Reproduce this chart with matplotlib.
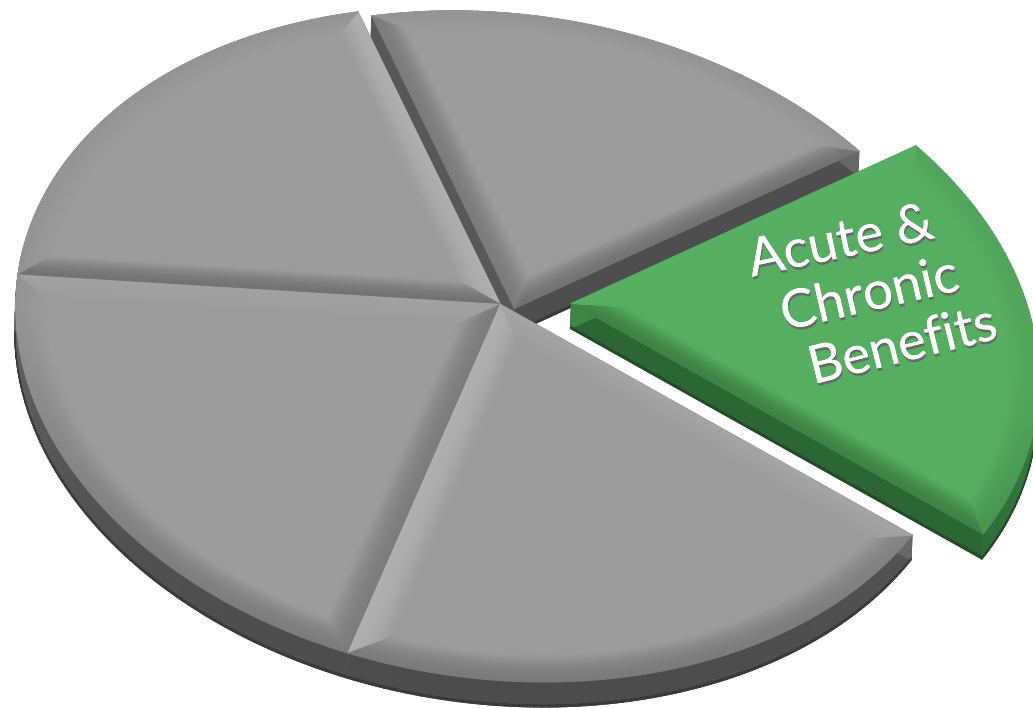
import numpy as np
import matplotlib
matplotlib.use("Agg")
import matplotlib.pyplot as plt
import matplotlib.patheffects as pe
from matplotlib.collections import PolyCollection

# one pie, five equal slices, counter clockwise from the upper right edge
slice_shares = [20, 20, 20, 20, 20]
slice_colors = ["#9c9c9c", "#9c9c9c", "#9c9c9c", "#9c9c9c", "#56ae60"]
side_colors = ["#505050", "#505050", "#505050", "#505050", "#2e6836"]
label_lines = ["Acute &", "Chronic", "Benefits"]

START_ANGLE = 18.0
slice_shift = [(14, 4), (0, 0), (0, 0), (0, 0), (71, -1)]
slice_lift = [1.0, 1.0, 1.0, 1.0, 0.2]
DEPTH = (-1.0, 25.0)
BEVEL = 0.065
N_ARC = 90
N_BEVEL = 24


def fit_homography(src, dst):
    rows = []
    for (x, y), (u, v) in zip(src, dst):
        rows.append([x, y, 1, 0, 0, 0, -u * x, -u * y, -u])
        rows.append([0, 0, 0, x, y, 1, -v * x, -v * y, -v])
    return np.linalg.svd(np.array(rows))[2][-1].reshape(3, 3)


def unit(deg):
    return np.array([np.cos(np.radians(deg)), np.sin(np.radians(deg))])


# tilt of the disc on the page, from four rim points
tilt = fit_homography(
    [unit(90), unit(162), unit(234), unit(306)],
    [(358, 12), (18, 275), (348, 653), (912, 535)],
)


def project(pts):
    pts = np.asarray(pts)
    h = np.column_stack([pts, np.ones(len(pts))]) @ tilt.T
    return h[:, :2] / h[:, 2:]


def wedge_outline(a, b, inset):
    half = np.radians(b - a) / 2
    apex = inset / np.sin(half) * unit((a + b) / 2)
    trim = np.degrees(np.arcsin(inset / (1 - inset)))
    arc = np.linspace(a + trim, b - trim, N_ARC)
    rim = (1 - inset) * np.column_stack([np.cos(np.radians(arc)), np.sin(np.radians(arc))])
    return np.vstack([apex, rim])


def mix(color, factor):
    rgb = np.array(matplotlib.colors.to_rgb(color))
    return tuple(np.clip(rgb * factor, 0, 1))


def bevel_factor(is_radial, ny, f, lift):
    if is_radial:
        if ny > 0:
            amt = 0.27 * ny ** 0.3
        else:
            amt = -(0.03 + 0.16 * (1 + ny)) * lift
    else:
        amt = 0.05 + 0.17 * max(ny, 0)
    # flat near the crease, fading out toward the top face
    return 1 - (1 - f ** 1.8) * amt


def draw_slice(ax, a, b, top, side, shift, lift):
    outer = project(wedge_outline(a, b, 1e-6)) + shift
    n = len(outer)
    mid = outer.mean(axis=0)

    normals = []
    for i in range(n):
        p, q = outer[i], outer[(i + 1) % n]
        nv = np.array([q[1] - p[1], p[0] - q[0]])
        nv = nv / np.hypot(*nv)
        if nv @ ((p + q) / 2 - mid) < 0:
            nv = -nv
        normals.append(nv)

    # wall below the rim, with a darker lip along its lower edge
    quads, cols = [], []
    d = np.array(DEPTH)
    for i in range(n):
        p, q = outer[i], outer[(i + 1) % n]
        shade = 1.3 - 0.35 * max(normals[i][1], 0) ** 0.7
        quads.append([p, q, q + d, p + d])
        cols.append(mix(side, shade))
    for i in range(n):
        p, q = outer[i], outer[(i + 1) % n]
        if normals[i][1] > 0:
            quads.append([p + 0.92 * d, q + 0.92 * d, q + d, p + d])
            cols.append(mix(side, 0.72))
    ax.add_collection(PolyCollection(quads, facecolors=cols, edgecolors=cols, linewidths=0.8))

    # top face, then the bevel bands stepping in from the outline
    layers = [project(wedge_outline(a, b, max(1e-6, BEVEL * j / N_BEVEL))) + shift
              for j in range(N_BEVEL + 1)]
    ax.fill(layers[-1][:, 0], layers[-1][:, 1], color=top, lw=0.4)
    quads, cols = [], []
    for j in range(N_BEVEL):
        f = (j + 0.5) / N_BEVEL
        o, m = layers[j], layers[j + 1]
        for i in range(n):
            k = (i + 1) % n
            is_radial = i == 0 or i == n - 1
            quads.append([o[i], o[k], m[k], m[i]])
            cols.append(mix(top, bevel_factor(is_radial, normals[i][1], f, lift)))
    ax.add_collection(PolyCollection(quads, facecolors=cols, edgecolors=cols, linewidths=0.8))


fig = plt.figure(figsize=(10.33, 7.08), dpi=100)
ax = fig.add_axes([0, 0, 1, 1])
ax.set_xlim(0, 1033)
ax.set_ylim(708, 0)
ax.axis("off")

edges = START_ANGLE + np.cumsum([0] + slice_shares) * 3.6
for i in range(len(slice_shares)):
    draw_slice(ax, edges[i], edges[i + 1], slice_colors[i], side_colors[i],
               np.array(slice_shift[i]), slice_lift[i])

# label on the green slice, each line stepped to the right
label_x = [841, 870, 903]
label_y = [243, 296, 347]
label_rot = [12, 13, 14]
for s, x, y, r in zip(label_lines, label_x, label_y, label_rot):
    ax.text(x, y, s, color="white", fontsize=38, family="Lato", rotation=r,
            rotation_mode="anchor", ha="center", va="center",
            path_effects=[pe.withSimplePatchShadow(offset=(0.7, -2), shadow_rgbFace="#666666", alpha=0.9),
                          pe.Normal()])

fig.savefig("out.png", dpi=100)
